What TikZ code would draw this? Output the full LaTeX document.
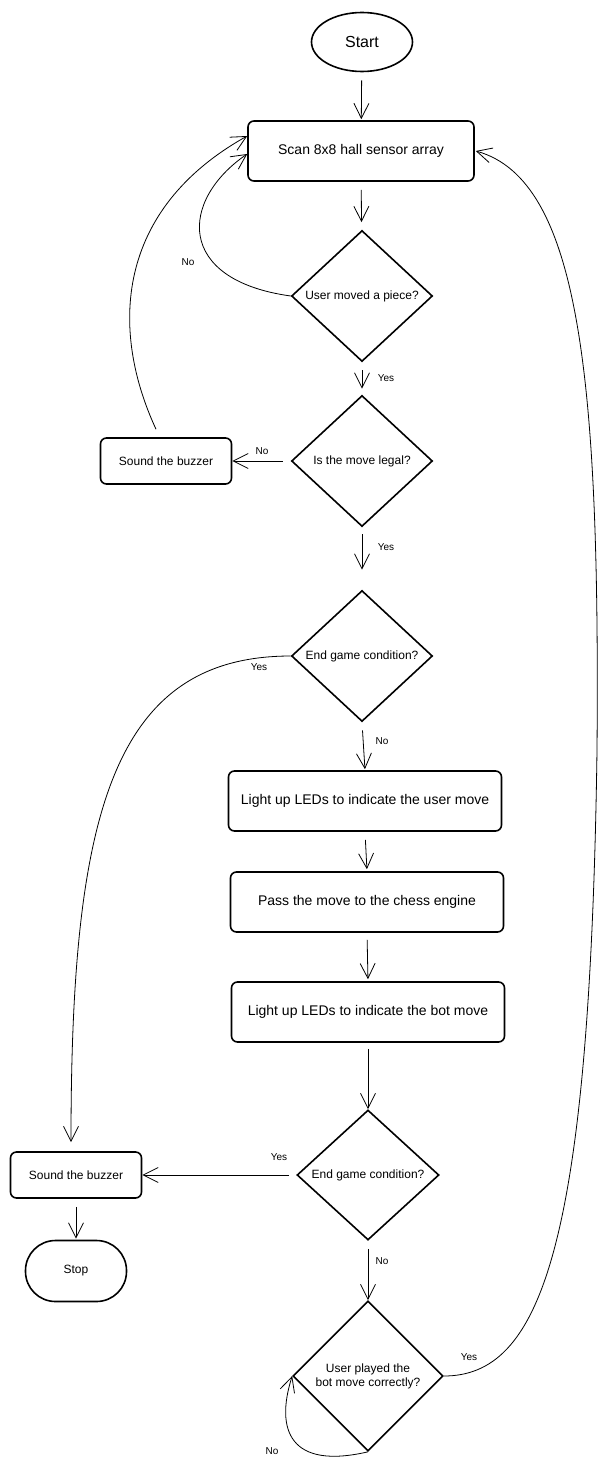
\documentclass[tikz,border=0pt]{standalone}
\usepackage{fontspec}
\setmainfont{Liberation Sans}
\usetikzlibrary{shapes.geometric,arrows.meta,calc}

\begin{document}
\begin{tikzpicture}[x=1pt,y=-1pt,
  process/.style={draw,line width=1.6pt,rounded corners=6pt,minimum height=60pt,font=\fontsize{14}{16}\selectfont},
  buzzer/.style={draw,line width=1.6pt,rounded corners=6pt,minimum width=131pt,minimum height=46pt,font=\fontsize{12}{14}\selectfont},
  decision/.style={draw,diamond,line width=1.6pt,inner sep=0pt,shape aspect=1.08,minimum width=141pt,minimum height=131pt,font=\fontsize{12}{14}\selectfont,align=center},
  flow/.style={line width=0.8pt,-{Straight Barb[length=15pt,width=15pt]}},
  lbl/.style={font=\fontsize{10}{12}\selectfont}]

\useasboundingbox (0,0) rectangle (608,1469);

% Terminals
\node[draw,ellipse,line width=1.6pt,inner sep=0pt,minimum width=101pt,minimum height=59pt,font=\fontsize{16}{18}\selectfont] (start) at (362,42) {Start};
\node[draw,line width=1.6pt,rounded corners=30pt,minimum width=101pt,minimum height=61pt,font=\fontsize{12}{14}\selectfont] (stop) at (76,1271) {Stop};

% Steps
\node[process,minimum width=226pt] (scan) at (361,151) {Scan 8x8 hall sensor array};
\node[process,minimum width=273pt] (ledUser) at (365,801) {Light up LEDs to indicate the user move};
\node[process,minimum width=273pt] (pass) at (367,902) {Pass the move to the chess engine};
\node[process,minimum width=273pt] (ledBot) at (368,1012) {Light up LEDs to indicate the bot move};
\node[buzzer] (buzzA) at (166,461) {Sound the buzzer};
\node[buzzer] (buzzB) at (76,1175) {Sound the buzzer};

% Decisions
\node[decision] (moved) at (362,296) {User moved a piece?};
\node[decision] (legal) at (362,461) {Is the move legal?};
\node[decision] (endA) at (362,656) {End game condition?};
\node[decision,minimum width=142pt,minimum height=130pt] (endB) at (368,1175) {End game condition?};
\node[decision,shape aspect=1,minimum width=150pt,minimum height=150pt] (played) at (368,1376) {User played the\\bot move correctly?};

% Straight arrows
\draw[flow,shorten <=8pt,shorten >=1pt] (start) -- (scan);
\draw[flow,shorten <=8pt,shorten >=8pt] (scan) -- (moved);
\draw[flow,shorten <=8pt,shorten >=6pt] (moved) -- (legal);
\draw[flow,shorten <=8pt] (legal.west) -- (buzzA.east);
\draw[flow,shorten <=7pt,shorten >=20pt] (legal) -- (endA);
\draw[flow,shorten <=8pt,shorten >=1pt] (endA.south) -- (ledUser.north);
\draw[flow,shorten <=8pt,shorten >=2pt] (ledUser.south) -- (pass.north);
\draw[flow,shorten <=7pt,shorten >=2pt] (pass.south) -- (ledBot.north);
\draw[flow,shorten <=6pt] (ledBot.south) -- (endB.north);
\draw[flow,shorten <=7pt] (endB.west) -- (buzzB.east);
\draw[flow,shorten <=8pt] (endB.south) -- (played.north);
\draw[flow,shorten <=8pt,shorten >=1pt] (buzzB.south) -- (stop.north);

% Curved arrows
\draw[flow] (moved.west) .. controls (175,280) and (180,200) .. ($(scan.west)+(0,3)$);
\draw[flow] ($(buzzA.north)+(-10,-8)$) .. controls (110,330) and (115,210) .. ($(scan.west)+(0,-15)$);
\draw[flow] (endA.west) .. controls (110,656) and (71,820) .. ($(buzzB.north)+(-5,-9)$);
\draw[flow] (played.east) .. controls (540,1376) and (590,1250) .. (597,750)
  .. controls (600,380) and (580,180) .. ($(scan.east)+(1,0)$);
\draw[flow] (played.south) .. controls (290,1470) and (275,1430) .. (played.west);

% Labels
\node[lbl] (noMoved) at (188,262) {No};
\node[lbl] (yesMoved) at (386,378) {Yes};
\node[lbl] (noLegal) at (262,451) {No};
\node[lbl] (yesLegal) at (386,547) {Yes};
\node[lbl] (yesEndA) at (259,667) {Yes};
\node[lbl] (noEndA) at (382,741) {No};
\node[lbl] (yesEndB) at (279,1157) {Yes};
\node[lbl] (noEndB) at (382,1261) {No};
\node[lbl] (yesPlayed) at (469,1357) {Yes};
\node[lbl] (noPlayed) at (272,1451) {No};

\end{tikzpicture}
\end{document}
